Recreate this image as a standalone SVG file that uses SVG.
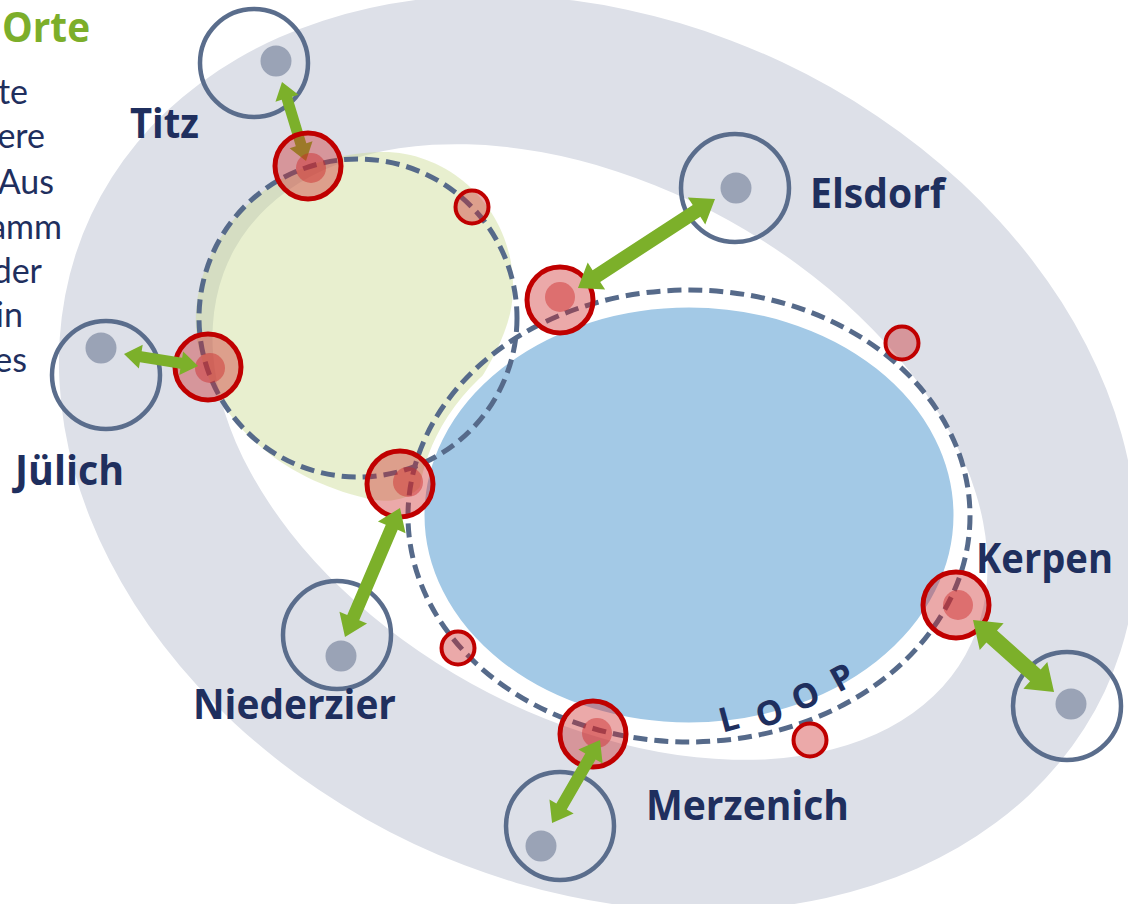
<svg xmlns="http://www.w3.org/2000/svg" width="1128" height="904" viewBox="0 0 1128 904">
<style>
.lbl{font-family:'Open Sans',Lato,'Liberation Sans',sans-serif;font-weight:700;font-size:42px;fill:#1f2f5e}
.body{font-family:Lato,'Open Sans','Liberation Sans',sans-serif;font-size:34px;fill:#1f2f5e}
.loc{fill:none;stroke:#5a6d8c;stroke-width:4.5}
.dot{fill:#9aa3b6}
.hub{fill:#cc2828;fill-opacity:0.4;stroke:#c00000;stroke-width:5}
.core{fill:#cc2828;fill-opacity:0.45}
.mini{fill:#cc2828;fill-opacity:0.4;stroke:#c00000;stroke-width:4}
.loop{fill:none;stroke:#566a8a;stroke-width:5;stroke-dasharray:14 7}
.arr{fill:#7cb02a}
</style>
<rect width="1128" height="904" fill="#ffffff"/>
<g id="background">
<ellipse cx="598" cy="453" rx="560" ry="432" transform="rotate(25.2 598 453)" fill="#dde0e8"/>
<ellipse cx="600" cy="452" rx="418" ry="265" transform="rotate(29 600 452)" fill="#ffffff"/>
<path d="M380,152 C450,150 515,210 513,290 C512,350 460,400 430,470 C420,500 390,505 365,498 C290,480 215,430 197,340 C185,250 260,155 380,152 Z" fill="#cadb8f" fill-opacity="0.43"/>
<ellipse cx="689" cy="515" rx="268" ry="211" fill="#a3c9e6" stroke="#ffffff" stroke-width="7"/>
</g>
<g id="loops">
<circle class="loop" cx="358" cy="318" r="159"/>
<ellipse class="loop" cx="689" cy="516" rx="281" ry="226"/>
</g>
<g id="legend">
<text x="2" y="42" font-family="'Open Sans',Lato,'Liberation Sans',sans-serif" font-weight="700" font-size="42" fill="#7cae2a" textLength="88" lengthAdjust="spacingAndGlyphs">Orte</text>
<text class="body" x="28" y="104" text-anchor="end">te</text>
<text class="body" x="45" y="148" text-anchor="end">ere</text>
<text class="body" x="54" y="194" text-anchor="end">Aus</text>
<text class="body" x="62" y="239" text-anchor="end">amm</text>
<text class="body" x="42" y="283" text-anchor="end">der</text>
<text class="body" x="23" y="327" text-anchor="end">in</text>
<text class="body" x="27" y="372" text-anchor="end">es</text>
</g>
<g id="hubs">
<g id="hub-juelich"><circle class="hub" cx="208" cy="367" r="33"/><circle class="core" cx="210" cy="368" r="15"/></g>
<g id="hub-center"><circle class="hub" cx="400" cy="484" r="33"/><circle class="core" cx="408" cy="482" r="15"/></g>
<g id="hub-elsdorf"><circle class="hub" cx="560" cy="300" r="33"/><circle class="core" cx="560" cy="297" r="15"/></g>
<g id="hub-kerpen"><circle class="hub" cx="956" cy="605" r="33"/><circle class="core" cx="958" cy="605" r="15"/></g>
<g id="hub-merzenich"><circle class="hub" cx="593" cy="734" r="33"/><circle class="core" cx="597" cy="733" r="15"/></g>
<circle class="mini" cx="472" cy="207" r="16.5"/>
<circle class="mini" cx="902" cy="343" r="16.5"/>
<circle class="mini" cx="458" cy="648" r="16.5"/>
<circle class="mini" cx="810" cy="740" r="16.5"/>
</g>
<g id="town-titz"><circle class="loc" cx="254" cy="63" r="54"/><circle class="dot" cx="276" cy="61" r="15.5"/><text class="lbl" x="130" y="138" textLength="69" lengthAdjust="spacingAndGlyphs">Titz</text></g>
<g id="town-juelich"><circle class="loc" cx="106" cy="375" r="54"/><circle class="dot" cx="101" cy="348" r="15.5"/><text class="lbl" x="15" y="485" textLength="109" lengthAdjust="spacingAndGlyphs">Jülich</text></g>
<g id="town-elsdorf"><circle class="loc" cx="735" cy="188" r="54"/><circle class="dot" cx="736" cy="188" r="15.5"/><text class="lbl" x="810" y="208" textLength="135" lengthAdjust="spacingAndGlyphs">Elsdorf</text></g>
<g id="town-niederzier"><circle class="loc" cx="337" cy="635" r="54"/><circle class="dot" cx="341" cy="656" r="15.5"/><text class="lbl" x="193" y="719" textLength="203" lengthAdjust="spacingAndGlyphs">Niederzier</text></g>
<g id="town-merzenich"><circle class="loc" cx="560" cy="826" r="54"/><circle class="dot" cx="541" cy="846" r="15.5"/><text class="lbl" x="646" y="820" textLength="203" lengthAdjust="spacingAndGlyphs">Merzenich</text></g>
<g id="town-kerpen"><circle class="loc" cx="1067" cy="706" r="54"/><circle class="dot" cx="1071" cy="704" r="15.5"/><text class="lbl" x="976" y="573" textLength="137" lengthAdjust="spacingAndGlyphs">Kerpen</text></g>
<g id="connectors">
<polygon class="arr" transform="translate(282,82) rotate(73.1)" points="0,0 17,-12 17,-5.5 65.6,-5.5 65.6,-12 82.6,0 65.6,12 65.6,5.5 17,5.5 17,12"/>
<polygon class="arr" transform="translate(124,354) rotate(9.2)" points="0,0 17,-12 17,-5.5 58,-5.5 58,-12 75,0 58,12 58,5.5 17,5.5 17,12"/>
<polygon class="arr" transform="translate(715,199) rotate(147)" points="0,0 22,-16 22,-7 141.4,-7 141.4,-16 163.4,0 141.4,16 141.4,7 22,7 22,16"/>
<polygon class="arr" transform="translate(400,508) rotate(113.1)" points="0,0 21,-15 21,-6.5 119.2,-6.5 119.2,-15 140.2,0 119.2,15 119.2,6.5 21,6.5 21,15"/>
<polygon class="arr" transform="translate(600,740) rotate(120)" points="0,0 19,-14 19,-6 76.9,-6 76.9,-14 95.9,0 76.9,14 76.9,6 19,6 19,14"/>
<polygon class="arr" transform="translate(973,620) rotate(41.6)" points="0,0 25,-18 25,-8 83.4,-8 83.4,-18 108.4,0 83.4,18 83.4,8 25,8 25,18"/>
</g>
<g id="hub-titz"><circle class="hub" cx="308" cy="166" r="33"/><circle class="core" cx="311" cy="168" r="15"/></g>
<text id="loop-label" x="722.4 760.3 798 838.2" y="732.7 728.4 712.3 693" rotate="-15 -18 -24 -28" font-family="'Open Sans',Lato,'Liberation Sans',sans-serif" font-weight="700" font-size="34" fill="#1f2f5e">LOOP</text>
</svg>
